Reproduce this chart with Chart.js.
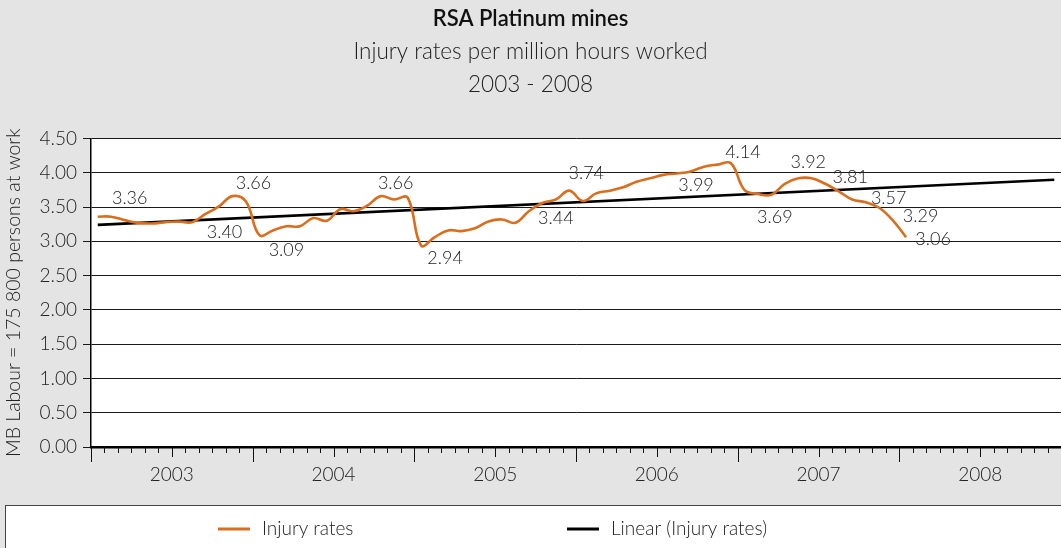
<!DOCTYPE html>
<html lang="en">
<head>
    <meta charset="UTF-8">
    <title>RSA Platinum mines - Injury rates</title>
    <script src="https://cdn.jsdelivr.net/npm/chart.js"></script>
    <style>
        * {
            box-sizing: border-box;
            margin: 0;
            padding: 0;
        }

        body {
            background: #e3e4e3;
            width: 1061px;
            height: 548px;
            overflow: hidden;
        }
    </style>
</head>
<body>
    <canvas id="injuryChart" width="1061" height="548"></canvas>
    <script>
        const years = ['2003', '2004', '2005', '2006', '2007', '2008'];

        // monthly rates, Jan 2003 .. Jan 2008
        const injuryRates = [
            3.36, 3.36, 3.31, 3.27, 3.26, 3.28, 3.29, 3.28, 3.40, 3.51, 3.66, 3.58,
            3.09, 3.16, 3.22, 3.22, 3.34, 3.30, 3.47, 3.44, 3.52, 3.66, 3.61, 3.64,
            2.94, 3.06, 3.16, 3.15, 3.19, 3.29, 3.32, 3.27, 3.44, 3.56, 3.61, 3.74,
            3.59, 3.70, 3.74, 3.79, 3.87, 3.92, 3.97, 3.99, 4.02, 4.09, 4.12, 4.14,
            3.75, 3.69, 3.68, 3.84, 3.92, 3.92, 3.84, 3.73, 3.61, 3.57, 3.49, 3.31,
            3.06
        ];

        // excel linear trendline, forecast to the end of 2008
        const trendStart = 3.24;
        const trendEnd = 3.90;

        // which months carry a value label, and the text shown
        const labelIdx = [0, 8, 10, 12, 21, 24, 32, 35, 43, 47, 49, 52, 54, 57, 59, 60];
        const labelText = ['3.36', '3.40', '3.66', '3.09', '3.66', '2.94', '3.44', '3.74',
                           '3.99', '4.14', '3.69', '3.92', '3.81', '3.57', '3.29', '3.06'];
        // label nudges (px) from its point
        const labelNudge = [[32, -19], [19, 18], [21, -13], [27, 15], [15, -13], [24, 13], [27, 7], [17, -17],
                            [19, 12], [12, -11], [17, 23], [10, -16], [25, -7], [23, -4], [28, -4], [27, 2]];

        const totalMonths = years.length * 12;
        const ORANGE = '#d86e1e';
        const FONT = 'Lato, "Open Sans", sans-serif';
        const TEXT = '#222';

        const framePlugin = {
            id: 'frame',
            beforeDraw(chart) {
                const a = chart.chartArea;
                const c = chart.ctx;
                c.save();
                c.fillStyle = '#fff';
                c.fillRect(a.left, a.top, a.right - a.left, a.bottom - a.top);
                c.restore();
            },
            afterDraw(chart) {
                const c = chart.ctx;
                const a = chart.chartArea;
                const xs = chart.scales.x;

                // month ticks under the x axis
                c.save();
                c.strokeStyle = '#111';
                c.lineWidth = 1;
                for (let m = 0; m <= totalMonths; m++) {
                    let x = Math.round(xs.getPixelForValue(m)) + 0.5;
                    let len = m % 12 === 0 ? 15 : (m % 6 === 0 ? 10 : 6);
                    c.beginPath();
                    c.moveTo(x, a.bottom);
                    c.lineTo(x, a.bottom + len);
                    c.stroke();
                }
                c.restore();

                // value labels
                const pts = chart.getDatasetMeta(0).data;
                c.save();
                c.font = '300 18px ' + FONT;
                c.fillStyle = TEXT;
                c.textAlign = 'center';
                c.textBaseline = 'middle';
                labelIdx.forEach((idx, k) => {
                    let p = pts[idx];
                    c.fillText(labelText[k], p.x + labelNudge[k][0], p.y + labelNudge[k][1]);
                });
                c.restore();

                // legend box
                c.save();
                c.fillStyle = '#fff';
                c.fillRect(5, 505, 1061, 50);
                c.strokeStyle = '#444';
                c.lineWidth = 1;
                c.strokeRect(5.5, 505.5, 1061, 50);
                c.font = '300 19px ' + FONT;
                c.fillStyle = TEXT;
                c.textBaseline = 'middle';
                const itemX = [218, 567];
                chart.data.datasets.forEach((ds, i) => {
                    c.strokeStyle = ds.borderColor;
                    c.lineWidth = 3;
                    c.beginPath();
                    c.moveTo(itemX[i], 529);
                    c.lineTo(itemX[i] + 32, 529);
                    c.stroke();
                    c.fillText(ds.label, itemX[i] + 44, 529);
                });
                c.restore();
            }
        };

        new Chart(document.getElementById('injuryChart'), {
            type: 'line',
            data: {
                datasets: [{
                    label: 'Injury rates',
                    data: injuryRates.map((v, i) => ({ x: i + 0.5, y: v })),
                    borderColor: ORANGE,
                    borderWidth: 2.6,
                    tension: 0.4,
                    pointRadius: 0
                }, {
                    label: 'Linear (Injury rates)',
                    data: [{ x: 0.5, y: trendStart }, { x: totalMonths - 0.5, y: trendEnd }],
                    borderColor: '#000',
                    borderWidth: 2.6,
                    pointRadius: 0
                }]
            },
            options: {
                responsive: false,
                animation: false,
                layout: { padding: 0 },
                plugins: {
                    legend: { display: false },
                    tooltip: { enabled: false },
                    title: {
                        display: true,
                        text: 'RSA Platinum mines',
                        color: '#111',
                        font: { family: FONT, size: 22, weight: 600, lineHeight: 1.2 },
                        padding: { top: 6, bottom: 2 }
                    },
                    subtitle: {
                        display: true,
                        text: ['Injury rates per million hours worked', '2003 - 2008'],
                        color: TEXT,
                        font: { family: FONT, size: 22.5, weight: 300, lineHeight: 1.47 },
                        padding: { top: 1, bottom: 37 }
                    }
                },
                scales: {
                    x: {
                        type: 'linear',
                        min: 0,
                        max: totalMonths,
                        afterFit: s => { s.height = 101; s.paddingLeft = 0; s.paddingRight = 0; },
                        grid: { display: false },
                        border: { display: true, color: '#000', width: 2.5 },
                        ticks: {
                            stepSize: 1,
                            autoSkip: false,
                            maxRotation: 0,
                            padding: 8,
                            color: TEXT,
                            font: { family: FONT, size: 19, weight: 300 },
                            callback: v => (v % 12 === 6 ? years[(v - 6) / 12] : '')
                        }
                    },
                    y: {
                        min: 0,
                        max: 4.5,
                        afterFit: s => { s.width = 91; },
                        grid: { color: '#1a1a1a', lineWidth: 1, tickLength: 8 },
                        border: { display: true, color: '#000', width: 1.5 },
                        ticks: {
                            stepSize: 0.5,
                            padding: 6,
                            color: TEXT,
                            font: { family: FONT, size: 19, weight: 300 },
                            callback: v => v.toFixed(2)
                        },
                        title: {
                            display: true,
                            text: 'MB Labour = 175 800 persons at work',
                            color: TEXT,
                            font: { family: FONT, size: 19.5, weight: 300 },
                            padding: { top: 2, bottom: 0 }
                        }
                    }
                }
            },
            plugins: [framePlugin]
        });
    </script>
</body>
</html>
